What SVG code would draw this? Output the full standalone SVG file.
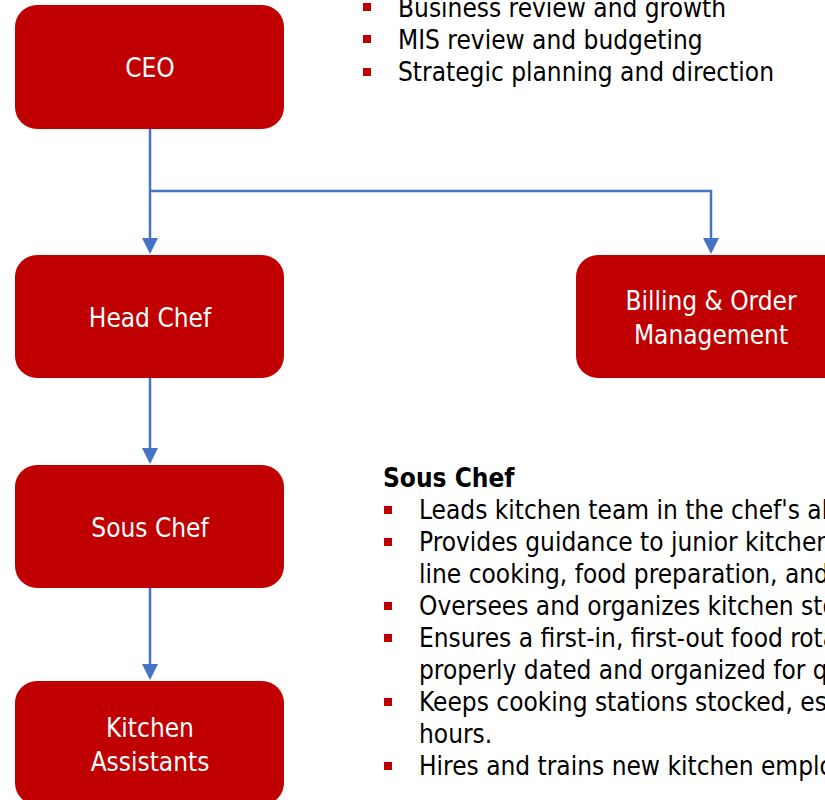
<svg xmlns="http://www.w3.org/2000/svg" width="825" height="800" viewBox="0 0 825 800">
<defs>
<marker id="arr" markerWidth="16" markerHeight="16" viewBox="0 0 16 16" refX="8" refY="16" orient="auto-start-reverse" markerUnits="userSpaceOnUse">
<path d="M0,0 L16,0 L8,16 Z" fill="#4472C4" transform="rotate(0)"/>
</marker>
<style>
.box{fill:#C00000;}
.lbl{fill:#FFFFFF;font-family:"DejaVu Sans",Verdana,sans-serif;font-size:26px;text-anchor:middle;font-stretch:condensed;}
.txt{fill:#000000;font-family:"DejaVu Sans",Verdana,sans-serif;font-size:26px;font-stretch:condensed;}
.hd{font-weight:bold;}
.bul{fill:#C00000;}
.con{fill:none;stroke:#4472C4;stroke-width:2.5;}
</style>
</defs>
<rect width="825" height="800" fill="#FFFFFF"/>
<g id="connectors">
<path class="con" d="M150,129 V239"/>
<path class="con" d="M150,191 H711 V239"/>
<path class="con" d="M150,378 V449"/>
<path class="con" d="M150,588 V665"/>
<path d="M142,238 L158,238 L150,254 Z" fill="#4472C4"/>
<path d="M703,238 L719,238 L711,254 Z" fill="#4472C4"/>
<path d="M142,448 L158,448 L150,464 Z" fill="#4472C4"/>
<path d="M142,664 L158,664 L150,680 Z" fill="#4472C4"/>
</g>
<g id="ceo">
<rect class="box" x="15" y="5" width="269" height="124" rx="22"/>
<text class="lbl" x="150" y="77">CEO</text>
</g>
<g id="head-chef">
<rect class="box" x="15" y="255" width="269" height="123" rx="22"/>
<text class="lbl" x="150" y="327">Head Chef</text>
</g>
<g id="billing">
<rect class="box" x="576" y="255" width="270" height="123" rx="22"/>
<text class="lbl" x="711" y="310">Billing &amp; Order</text>
<text class="lbl" x="711" y="344">Management</text>
</g>
<g id="sous-chef">
<rect class="box" x="15" y="465" width="269" height="123" rx="22"/>
<text class="lbl" x="150" y="537">Sous Chef</text>
</g>
<g id="kitchen-assistants">
<rect class="box" x="15" y="681" width="269" height="124" rx="22"/>
<text class="lbl" x="150" y="737">Kitchen</text>
<text class="lbl" x="150" y="771">Assistants</text>
</g>
<g id="ceo-notes">
<rect class="bul" x="363" y="3" width="8" height="8"/>
<rect class="bul" x="363" y="35" width="8" height="8"/>
<rect class="bul" x="363" y="68" width="8" height="8"/>
<text class="txt" x="398" y="17">Business review and growth</text>
<text class="txt" x="398" y="49">MIS review and budgeting</text>
<text class="txt" x="398" y="81">Strategic planning and direction</text>
</g>
<g id="sous-chef-notes">
<text class="txt hd" x="383" y="487">Sous Chef</text>
<rect class="bul" x="384" y="506" width="8" height="8"/>
<rect class="bul" x="384" y="538" width="8" height="8"/>
<rect class="bul" x="384" y="602" width="8" height="8"/>
<rect class="bul" x="384" y="634" width="8" height="8"/>
<rect class="bul" x="384" y="698" width="8" height="8"/>
<rect class="bul" x="384" y="762" width="8" height="8"/>
<text class="txt" x="419" y="519">Leads kitchen team in the chef's absence</text>
<text class="txt" x="419" y="551">Provides guidance to junior kitchen</text>
<text class="txt" x="419" y="583">line cooking, food preparation, and</text>
<text class="txt" x="419" y="615">Oversees and organizes kitchen stock</text>
<text class="txt" x="419" y="647">Ensures a first-in, first-out food rotation</text>
<text class="txt" x="419" y="679">properly dated and organized for quality</text>
<text class="txt" x="419" y="711">Keeps cooking stations stocked, especially</text>
<text class="txt" x="419" y="743">hours.</text>
<text class="txt" x="419" y="775">Hires and trains new kitchen employees</text>
</g>
</svg>
